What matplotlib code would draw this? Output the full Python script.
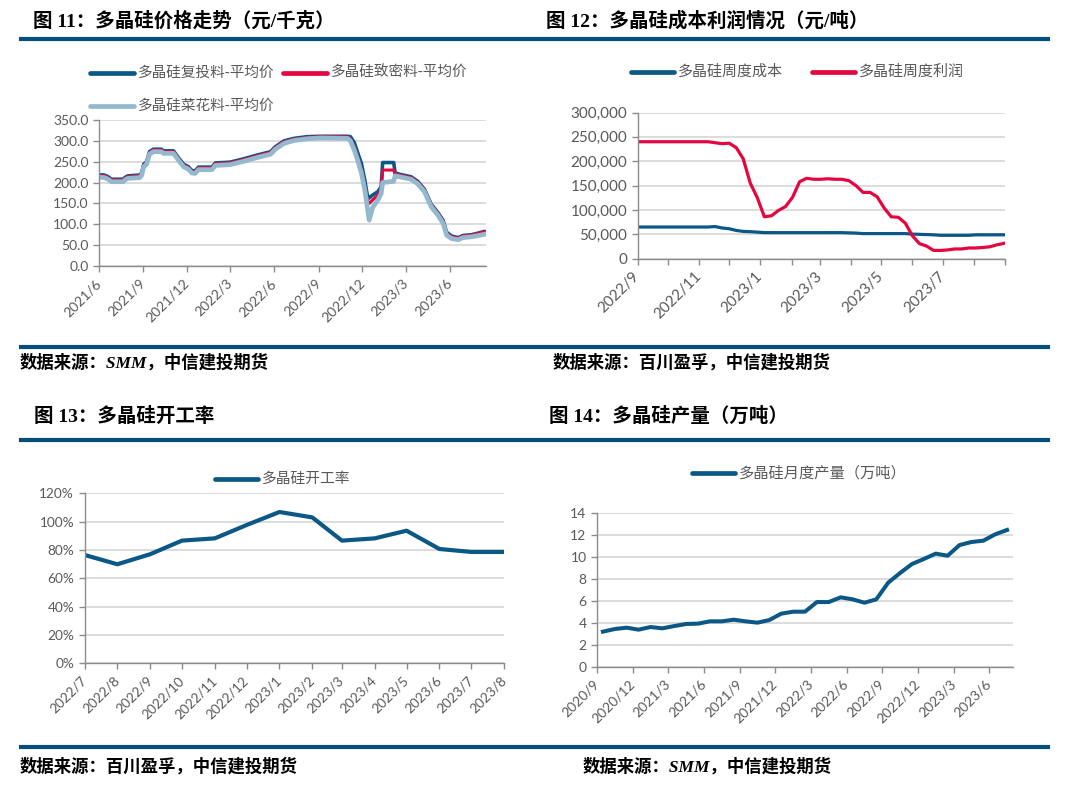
import matplotlib
matplotlib.use("Agg")
import matplotlib.pyplot as plt
from matplotlib.lines import Line2D
from matplotlib.ticker import FuncFormatter
import pandas as pd
import numpy as np

# ---------------------------------------------------------------------------
# Data
# ---------------------------------------------------------------------------

# Fig 11: polysilicon average prices (yuan/kg)
p1_dates = [
    "2021-06-01", "2021-06-12", "2021-06-20", "2021-06-27", "2021-07-21", "2021-07-26",
    "2021-07-31", "2021-08-25", "2021-08-29", "2021-09-02", "2021-09-08", "2021-09-14",
    "2021-09-22", "2021-10-09", "2021-10-13", "2021-11-03", "2021-11-13", "2021-11-24",
    "2021-12-04", "2021-12-11", "2021-12-18", "2021-12-25", "2022-01-22", "2022-01-29",
    "2022-03-01", "2022-03-29", "2022-04-26", "2022-05-24", "2022-06-03", "2022-06-21",
    "2022-07-12", "2022-08-08", "2022-09-05", "2022-10-31", "2022-11-06", "2022-11-14",
    "2022-11-21", "2022-11-29", "2022-12-06", "2022-12-11", "2022-12-15", "2022-12-22",
    "2023-01-02", "2023-01-09", "2023-01-12", "2023-02-04", "2023-02-07", "2023-02-16",
    "2023-03-12", "2023-03-26", "2023-04-09", "2023-04-23", "2023-05-07", "2023-05-18",
    "2023-05-25", "2023-06-04", "2023-06-18", "2023-06-28", "2023-07-16", "2023-07-30",
    "2023-08-12", "2023-08-15",
]
p1_cauli = [
    213, 212, 208, 202, 202, 207, 210, 212, 218, 238, 244, 268,
    274, 274, 270, 270, 254, 238, 232, 223, 222, 231, 231, 241,
    243, 251, 260, 268, 280, 294, 301, 305, 307, 306, 300, 278,
    254, 222, 182, 142, 110, 140, 158, 174, 200, 203, 216, 214,
    208, 197, 178, 142, 122, 102, 74, 66, 63, 68, 70, 73,
    76, 77,
]
p1_dense = [
    217, 216, 212, 206, 206, 211, 214, 216, 222, 242, 248, 272,
    278, 278, 274, 274, 258, 242, 236, 227, 226, 235, 235, 245,
    247, 255, 264, 272, 284, 298, 304, 308, 310, 310, 305, 286,
    262, 230, 190, 158, 150, 158, 170, 184, 230, 230, 220, 218,
    212, 201, 182, 146, 126, 107, 79, 70, 67, 72, 74, 78,
    82, 80,
]
p1_refeed = [
    219, 218, 214, 208, 208, 213, 216, 218, 224, 244, 250, 274,
    280, 280, 276, 276, 260, 244, 238, 229, 228, 237, 237, 247,
    249, 257, 266, 274, 286, 300, 306, 310, 311, 311, 310, 296,
    272, 245, 205, 170, 163, 170, 178, 190, 248, 248, 223, 220,
    214, 203, 184, 148, 128, 109, 81, 72, 68, 73, 75, 79,
    83, 81,
]
p1_names = ["多晶硅复投料-平均价", "多晶硅致密料-平均价", "多晶硅菜花料-平均价"]
p1_xticks = ["2021-06-01", "2021-09-01", "2021-12-01", "2022-03-01", "2022-06-01",
             "2022-09-01", "2022-12-01", "2023-03-01", "2023-06-01"]
p1_xlabels = ["2021/6", "2021/9", "2021/12", "2022/3", "2022/6",
              "2022/9", "2022/12", "2023/3", "2023/6"]

# Fig 12: weekly cost and profit (yuan/t), 2022-09-01 .. 2023-08-31
p2_start = "2022-09-01"
p2_cost = [
    65000, 65000, 65000, 65000, 65000, 65000, 65000, 65000, 65000, 65000, 65000,
    66000, 63000, 61500, 58000, 56000, 55500, 54500, 53500, 53500, 53500, 53500,
    53500, 53500, 53500, 53500, 53500, 53500, 53500, 53500, 53000, 52500, 51500,
    51500, 51500, 51500, 51500, 51500, 51500, 50500, 50000, 49500, 49000, 48000,
    48000, 48000, 48000, 48000, 49000, 49000, 49000, 49000, 49000,
]
p2_profit = [
    240000, 240000, 240000, 240000, 240000, 240000, 240000, 240000, 240000, 240000, 240000,
    238000, 236000, 237000, 228000, 205000, 155000, 125000, 86000, 88000, 99000, 107000,
    126000, 158000, 165000, 163000, 163000, 164000, 163000, 163000, 160000, 150000, 136000,
    136000, 127000, 104000, 86000, 85000, 73000, 47000, 31000, 26000, 17000, 17000,
    18000, 20000, 20000, 22000, 22000, 23000, 24500, 28500, 31500,
]
p2_names = ["多晶硅周度成本", "多晶硅周度利润"]
p2_xticks = ["2022-09-01", "2022-10-01", "2022-11-01", "2022-12-01", "2023-01-01",
             "2023-02-01", "2023-03-01", "2023-04-01", "2023-05-01", "2023-06-01",
             "2023-07-01", "2023-08-01", "2023-09-01"]
p2_xlabels = ["2022/9", "", "2022/11", "", "2023/1", "", "2023/3", "",
              "2023/5", "", "2023/7", "", ""]

# Fig 13: operating rate (%)
p3_months = ["2022-07-01", "2022-08-01", "2022-09-01", "2022-10-01", "2022-11-01",
             "2022-12-01", "2023-01-01", "2023-02-01", "2023-03-01", "2023-04-01",
             "2023-05-01", "2023-06-01", "2023-07-01", "2023-08-01"]
p3_labels = ["2022/7", "2022/8", "2022/9", "2022/10", "2022/11", "2022/12", "2023/1",
             "2023/2", "2023/3", "2023/4", "2023/5", "2023/6", "2023/7", "2023/8"]
p3_rate = [76.5, 69.9, 77.0, 86.6, 88.2, 97.6, 106.8, 103.0, 86.6, 88.2, 93.6, 80.7, 78.6, 78.6]

# Fig 14: monthly output (10k t)
p4_months = [
    "2020/9", "2020/10", "2020/11", "2020/12", "2021/1", "2021/2", "2021/3", "2021/4",
    "2021/5", "2021/6", "2021/7", "2021/8", "2021/9", "2021/10", "2021/11", "2021/12",
    "2022/1", "2022/2", "2022/3", "2022/4", "2022/5", "2022/6", "2022/7", "2022/8",
    "2022/9", "2022/10", "2022/11", "2022/12", "2023/1", "2023/2", "2023/3", "2023/4",
    "2023/5", "2023/6", "2023/7",
]
p4_output = [
    3.20, 3.44, 3.56, 3.38, 3.62, 3.50, 3.71, 3.90, 3.93, 4.14, 4.14, 4.29,
    4.14, 4.02, 4.26, 4.84, 5.02, 5.02, 5.90, 5.90, 6.33, 6.15, 5.84, 6.15,
    7.67, 8.55, 9.37, 9.83, 10.32, 10.13, 11.10, 11.38, 11.50, 12.08, 12.48,
]

# ---------------------------------------------------------------------------
# Style
# ---------------------------------------------------------------------------

W, H = 1072, 792
HEAD = "#03507f"
DARK = "#0b5886"
RED = "#e4063f"
LIGHT = "#94b9cf"
GRID = "#d9d9d9"
SPINE = "#8c8c8c"
LABEL = "#595959"

TITLE_FONT = ["Liberation Serif", "Noto Sans CJK SC"]
CJK = ["Noto Sans CJK SC", "DejaVu Sans"]
plt.rcParams["font.family"] = ["Lato", "Noto Sans CJK SC"]

fig = plt.figure(figsize=(W / 100, H / 100), dpi=100)


def box(l, t, r, b):
    return [l / W, 1 - b / H, (r - l) / W, (b - t) / H]


def fx(x):
    return x / W


def fy(y):
    return 1 - y / H


def style_axes(ax, size):
    for s in ["top", "right"]:
        ax.spines[s].set_visible(False)
    for s in ["left", "bottom"]:
        ax.spines[s].set_color(SPINE)
        ax.spines[s].set_linewidth(1.0)
    ax.grid(axis="y", color=GRID, lw=1.3)
    ax.set_axisbelow(True)
    ax.tick_params(colors=SPINE, labelcolor=LABEL, length=4, width=1.0,
                   direction="out", labelsize=size)
    ax.tick_params(axis="x", pad=7)


def rotate_labels(ax):
    for lab in ax.get_xticklabels():
        lab.set_rotation(45)
        lab.set_ha("right")
        lab.set_va("center")
        lab.set_rotation_mode("anchor")


def legend_item(x0, x1, y, color, lw, label, size):
    fig.add_artist(Line2D([fx(x0), fx(x1)], [fy(y), fy(y)], color=color, lw=lw,
                          solid_capstyle="round"))
    fig.text(fx(x1 + 4), fy(y), label, family=CJK, fontsize=size, color=LABEL,
             va="center", ha="left")


def title(x, y, s):
    fig.text(fx(x), fy(y), s, family=TITLE_FONT, fontweight="bold", fontsize=14,
             va="center", ha="left")


def source(x, y, s):
    fig.text(fx(x), fy(y), s, family=TITLE_FONT, fontweight="bold", style="italic",
             fontsize=12.5, va="center", ha="left")


def hline(y):
    fig.add_artist(Line2D([fx(21), fx(1048)], [fy(y), fy(y)], color=HEAD, lw=3.0))


# ---------------------------------------------------------------------------
# Frame: titles, rules, sources
# ---------------------------------------------------------------------------

title(33, 21, "图 11：多晶硅价格走势（元/千克）")
title(546, 21, "图 12：多晶硅成本利润情况（元/吨）")
title(34, 416, "图 13：多晶硅开工率")
title(549, 416, "图 14：多晶硅产量（万吨）")
for y in [39, 347, 440, 747]:
    hline(y)
source(20, 363, "数据来源：SMM，中信建投期货")
source(553, 363, "数据来源：百川盈孚，中信建投期货")
source(20, 767, "数据来源：百川盈孚，中信建投期货")
source(583, 767, "数据来源：SMM，中信建投期货")

# ---------------------------------------------------------------------------
# Fig 11
# ---------------------------------------------------------------------------

ax1 = fig.add_axes(box(99, 120, 486, 266))
d1 = pd.to_datetime(p1_dates)
ax1.plot(d1, p1_refeed, color=DARK, lw=2.6)
ax1.plot(d1, p1_dense, color=RED, lw=2.2)
ax1.plot(d1, p1_cauli, color=LIGHT, lw=3.4)
ax1.set_ylim(0, 350)
ax1.set_yticks(np.arange(0, 351, 50))
ax1.yaxis.set_major_formatter(FuncFormatter(lambda v, _: f"{v:.1f}"))
ax1.set_xlim(pd.Timestamp("2021-06-01"), pd.Timestamp("2023-08-15"))
ax1.set_xticks(pd.to_datetime(p1_xticks))
ax1.set_xticklabels(p1_xlabels)
style_axes(ax1, 10)
rotate_labels(ax1)
legend_item(90, 134, 73, DARK, 3.4, p1_names[0], 10.5)
legend_item(283, 327, 73, RED, 3.4, p1_names[1], 10.5)
legend_item(90, 134, 106, LIGHT, 3.4, p1_names[2], 10.5)

# ---------------------------------------------------------------------------
# Fig 12
# ---------------------------------------------------------------------------

ax2 = fig.add_axes(box(637.5, 112.5, 1005, 258.7))
d2 = pd.date_range(p2_start, periods=len(p2_cost), freq="7D")
ax2.plot(d2, p2_cost, color=DARK, lw=2.3)
ax2.plot(d2, p2_profit, color=RED, lw=2.3)
ax2.set_ylim(0, 300000)
ax2.set_yticks(np.arange(0, 300001, 50000))
ax2.yaxis.set_major_formatter(FuncFormatter(lambda v, _: f"{int(v):,}"))
ax2.set_xlim(pd.Timestamp("2022-09-01"), pd.Timestamp("2023-09-01"))
ax2.set_xticks(pd.to_datetime(p2_xticks))
ax2.set_xticklabels(p2_xlabels)
style_axes(ax2, 11)
rotate_labels(ax2)
legend_item(631, 674, 72, DARK, 3.4, p2_names[0], 10.8)
legend_item(812, 855, 72, RED, 3.4, p2_names[1], 10.8)

# ---------------------------------------------------------------------------
# Fig 13
# ---------------------------------------------------------------------------

ax3 = fig.add_axes(box(84.5, 493.3, 504, 663.3))
d3 = pd.to_datetime(p3_months)
ax3.plot(d3, p3_rate, color=DARK, lw=3.0)
ax3.set_ylim(0, 120)
ax3.set_yticks(np.arange(0, 121, 20))
ax3.yaxis.set_major_formatter(FuncFormatter(lambda v, _: f"{int(v)}%"))
ax3.set_xlim(d3[0], d3[-1])
ax3.set_xticks(d3)
ax3.set_xticklabels(p3_labels)
style_axes(ax3, 9.8)
rotate_labels(ax3)
legend_item(215, 258, 479, DARK, 3.4, "多晶硅开工率", 10.6)

# ---------------------------------------------------------------------------
# Fig 14
# ---------------------------------------------------------------------------

ax4 = fig.add_axes(box(597, 513.3, 1013, 666.7))
x4 = np.arange(len(p4_months))
ax4.plot(x4, p4_output, color=DARK, lw=2.9)
ax4.set_ylim(0, 14)
ax4.set_yticks(np.arange(0, 15, 2))
ax4.set_xlim(-0.5, len(p4_months) - 0.5)
ax4.set_xticks(x4[::3] - 0.5)
ax4.set_xticklabels(p4_months[::3])
style_axes(ax4, 10)
rotate_labels(ax4)
legend_item(692, 735, 473, DARK, 3.4, "多晶硅月度产量（万吨）", 11)

fig.savefig("out.png", dpi=100)
